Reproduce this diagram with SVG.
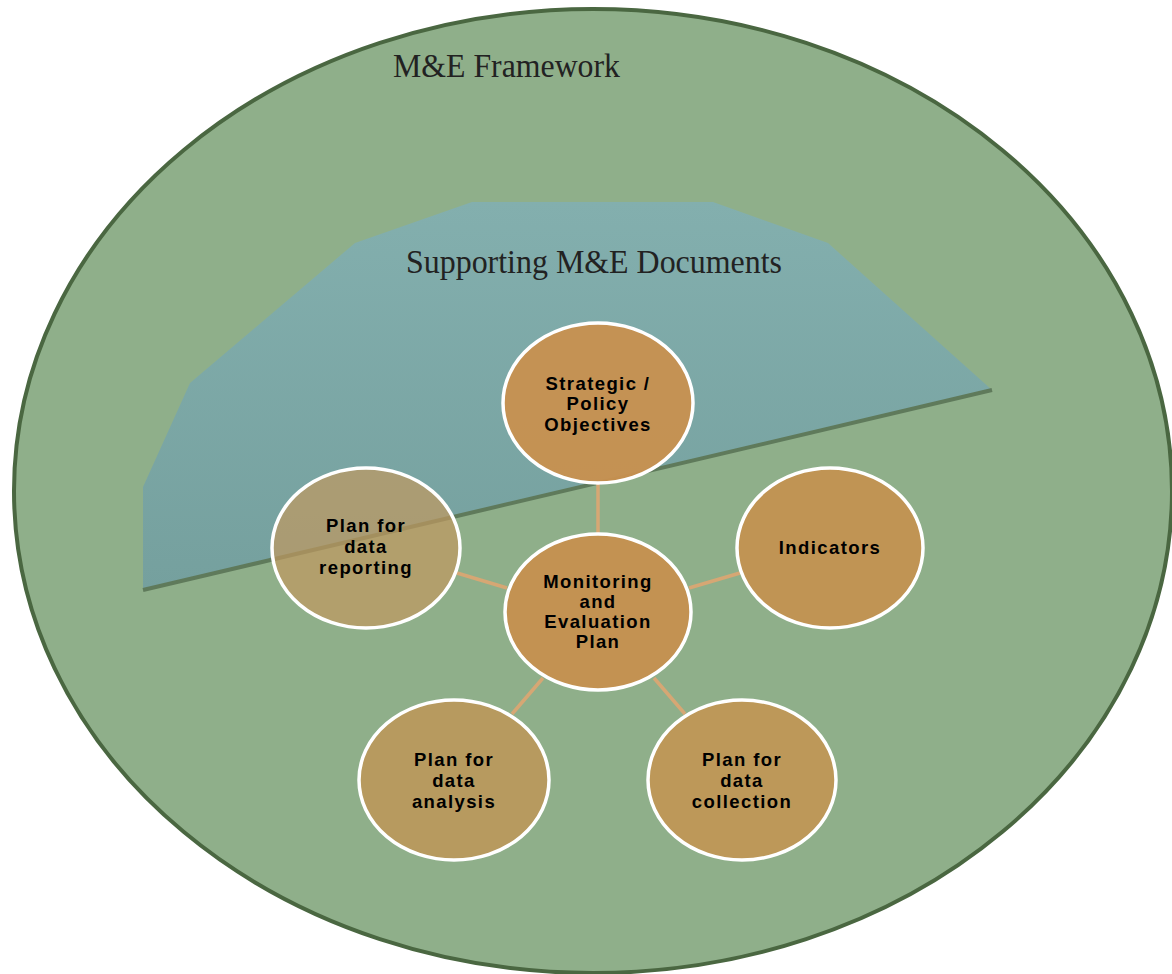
<svg xmlns="http://www.w3.org/2000/svg" width="1172" height="974" viewBox="0 0 1172 974">
<defs>
<linearGradient id="docGrad" x1="0" y1="0" x2="0" y2="1">
<stop offset="0" stop-color="#83afae"/>
<stop offset="1" stop-color="#75a09e"/>
</linearGradient>
<style>
.frame{fill:#8faf8a;stroke:#4a6741;stroke-width:4}
.doc{fill:url(#docGrad)}
.edge{fill:none;stroke:#5f7a5b;stroke-width:4}
.title{font-family:"Liberation Serif","Times New Roman",serif;font-size:33px;fill:#222}
.node ellipse{stroke:#ffffff;stroke-width:3.5}
.node text{font-family:"Liberation Sans",Arial,sans-serif;font-weight:bold;font-size:18.5px;fill:#000;text-anchor:middle;letter-spacing:1.4px}
.conn line{stroke:#d6a774;stroke-width:3.5}
</style>
</defs>
<rect width="1172" height="974" fill="#ffffff"/>
<ellipse class="frame" cx="593" cy="491" rx="579" ry="482"/>
<polygon class="doc" points="143,590 143,487 190,383 355,243 472,202 713,202 828,243 992,390"/>
<line class="edge" x1="143" y1="590" x2="992" y2="390"/>
<text class="title" x="393" y="77" textLength="227" lengthAdjust="spacingAndGlyphs">M&amp;E Framework</text>
<text class="title" x="406" y="273" textLength="376" lengthAdjust="spacingAndGlyphs">Supporting M&amp;E Documents</text>
<g id="connectors" class="conn">
<line x1="598" y1="483" x2="598" y2="534"/>
<line x1="689" y1="588" x2="740" y2="573"/>
<line x1="507" y1="588" x2="457" y2="573"/>
<line x1="543" y1="678" x2="512" y2="714"/>
<line x1="654" y1="678" x2="685" y2="714"/>
</g>
<g id="node-strategic" class="node">
<ellipse cx="598" cy="403" rx="95" ry="80" fill="#c8904f" fill-opacity="0.95"/>
<text x="598" y="390">Strategic /</text>
<text x="598" y="410">Policy</text>
<text x="598" y="431">Objectives</text>
</g>
<g id="node-center" class="node">
<ellipse cx="598" cy="612" rx="93" ry="78" fill="#c39252"/>
<text x="598" y="588">Monitoring</text>
<text x="598" y="608">and</text>
<text x="598" y="628">Evaluation</text>
<text x="598" y="648">Plan</text>
</g>
<g id="node-indicators" class="node">
<ellipse cx="830" cy="548" rx="93" ry="80" fill="#c09454"/>
<text x="830" y="554">Indicators</text>
</g>
<g id="node-collection" class="node">
<ellipse cx="742" cy="780" rx="94" ry="80" fill="#bd9859"/>
<text x="742" y="766">Plan for</text>
<text x="742" y="787">data</text>
<text x="742" y="808">collection</text>
</g>
<g id="node-analysis" class="node">
<ellipse cx="454" cy="780" rx="95" ry="80" fill="#b79a5f"/>
<text x="454" y="766">Plan for</text>
<text x="454" y="787">data</text>
<text x="454" y="808">analysis</text>
</g>
<g id="node-reporting" class="node">
<ellipse cx="366" cy="548" rx="94" ry="80" fill="#c09860" fill-opacity="0.7"/>
<text x="366" y="532">Plan for</text>
<text x="366" y="553">data</text>
<text x="366" y="574">reporting</text>
</g>
</svg>
